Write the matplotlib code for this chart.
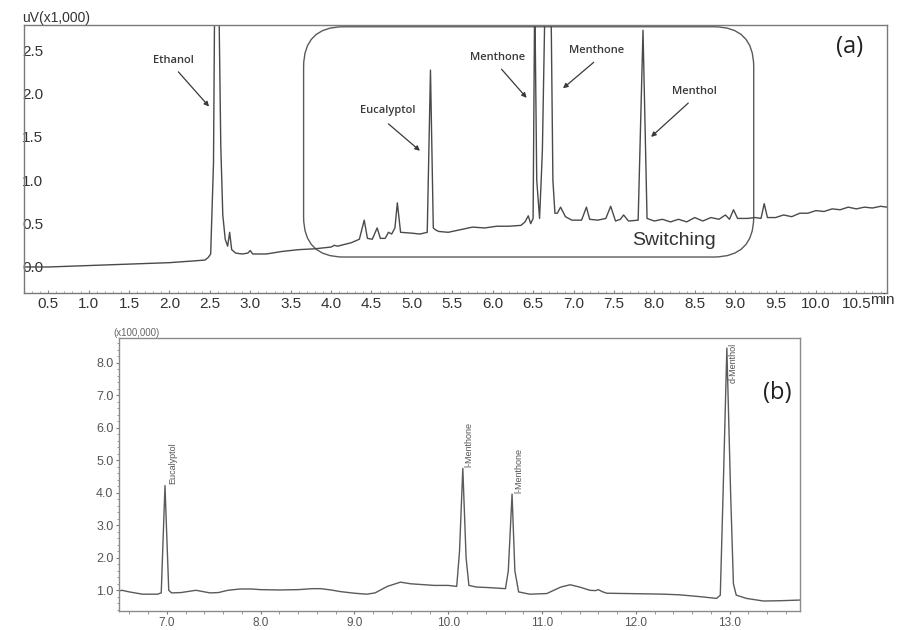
import matplotlib
matplotlib.use("Agg")
import matplotlib.pyplot as plt
from matplotlib.patches import FancyBboxPatch
from matplotlib.ticker import MultipleLocator, FixedLocator

# ---------------- data: panel (a) ----------------
time_a = [0.20, 0.50, 0.80, 1.10, 1.40, 1.70, 2.00, 2.30, 2.44, 2.48, 2.51, 2.545, 2.56, 2.61, 2.635,
          2.66, 2.69, 2.72, 2.745, 2.77, 2.82, 2.90, 2.97, 3.00, 3.03, 3.20, 3.40, 3.60, 3.80, 4.00,
          4.04, 4.08, 4.25, 4.35, 4.41, 4.45, 4.51, 4.57, 4.61, 4.67, 4.71, 4.75, 4.79, 4.82, 4.86,
          5.00, 5.10, 5.19, 5.23, 5.265, 5.29, 5.33, 5.45, 5.60, 5.75, 5.90, 6.05, 6.20, 6.35, 6.40,
          6.44, 6.47, 6.50, 6.52, 6.545, 6.58, 6.60, 6.615, 6.65, 6.72, 6.745, 6.77, 6.80, 6.84,
          6.90, 6.98, 7.10, 7.16, 7.20, 7.30, 7.40, 7.46, 7.52, 7.58, 7.62, 7.68, 7.80, 7.86, 7.91,
          8.00, 8.10, 8.20, 8.30, 8.40, 8.50, 8.60, 8.70, 8.80, 8.88, 8.93, 8.98, 9.03, 9.15, 9.25,
          9.32, 9.36, 9.40, 9.50, 9.60, 9.70, 9.80, 9.90, 10.00, 10.10, 10.20, 10.30, 10.40, 10.50,
          10.60, 10.70, 10.80, 10.88]
signal_a = [0.00, 0.00, 0.01, 0.02, 0.03, 0.04, 0.05, 0.07, 0.08, 0.11, 0.15, 1.20, 3.20, 3.20, 1.40,
            0.60, 0.32, 0.24, 0.40, 0.20, 0.16, 0.15, 0.16, 0.19, 0.15, 0.15, 0.18, 0.20, 0.21, 0.23,
            0.25, 0.24, 0.28, 0.32, 0.54, 0.33, 0.32, 0.45, 0.33, 0.33, 0.40, 0.38, 0.45, 0.74, 0.40,
            0.39, 0.38, 0.40, 2.27, 0.45, 0.43, 0.41, 0.40, 0.43, 0.46, 0.45, 0.47, 0.47, 0.48, 0.52,
            0.59, 0.50, 0.56, 3.20, 1.00, 0.56, 1.00, 1.35, 3.20, 3.20, 1.00, 0.62, 0.62, 0.69,
            0.58, 0.54, 0.54, 0.69, 0.55, 0.54, 0.56, 0.70, 0.53, 0.55, 0.60, 0.53, 0.54, 2.73, 0.56,
            0.53, 0.55, 0.52, 0.55, 0.52, 0.57, 0.53, 0.57, 0.55, 0.60, 0.55, 0.66, 0.56, 0.56, 0.57,
            0.56, 0.73, 0.57, 0.57, 0.60, 0.58, 0.62, 0.62, 0.65, 0.64, 0.67, 0.66, 0.69, 0.67,
            0.69, 0.68, 0.70, 0.69]
ticks_a_x = [0.5, 1.0, 1.5, 2.0, 2.5, 3.0, 3.5, 4.0, 4.5, 5.0, 5.5, 6.0, 6.5, 7.0, 7.5, 8.0, 8.5,
             9.0, 9.5, 10.0, 10.5]
ticks_a_y = [0.0, 0.5, 1.0, 1.5, 2.0, 2.5]
names_a = ["Ethanol", "Eucalyptol", "Menthone", "Menthone", "Menthol"]
label_pos_a = [(2.05, 2.38), (4.70, 1.81), (6.06, 2.41), (7.29, 2.50), (8.50, 2.02)]
arrow_from_a = [(2.11, 2.25), (4.71, 1.65), (6.11, 2.28), (7.25, 2.36), (8.42, 1.89)]
arrow_to_a = [(2.49, 1.85), (5.10, 1.34), (6.42, 1.95), (6.87, 2.06), (7.96, 1.50)]

# ---------------- data: panel (b) ----------------
time_b = [6.49, 6.52, 6.60, 6.74, 6.90, 6.94, 6.965, 6.98, 6.995, 7.02, 7.05, 7.15, 7.31, 7.46, 7.55,
          7.65, 7.78, 7.90, 8.00, 8.20, 8.40, 8.55, 8.64, 8.75, 8.85, 9.00, 9.13, 9.22, 9.35, 9.49,
          9.60, 9.70, 9.85, 10.00, 10.09, 10.12, 10.155, 10.19, 10.22, 10.30, 10.45, 10.61, 10.64,
          10.68, 10.71, 10.75, 10.87, 11.05, 11.20, 11.30, 11.40, 11.51, 11.57, 11.60, 11.64, 11.69,
          11.90, 12.12, 12.30, 12.47, 12.70, 12.86, 12.90, 12.93, 12.97, 13.01, 13.04, 13.07, 13.18,
          13.36, 13.55, 13.75]
signal_b = [0.98, 1.00, 0.95, 0.88, 0.88, 0.92, 3.00, 4.22, 3.00, 1.00, 0.92, 0.93, 1.00, 0.92, 0.93,
            1.00, 1.04, 1.04, 1.02, 1.01, 1.02, 1.05, 1.05, 1.01, 0.96, 0.91, 0.88, 0.92, 1.12, 1.25,
            1.20, 1.18, 1.15, 1.15, 1.12, 2.20, 4.75, 2.00, 1.15, 1.10, 1.08, 1.05, 1.60,
            3.96, 1.60, 0.95, 0.88, 0.90, 1.10, 1.17, 1.10, 1.00, 0.99, 1.02, 0.96, 0.91,
            0.90, 0.89, 0.88, 0.86, 0.80, 0.75, 0.85, 4.00, 8.45, 4.00, 1.20, 0.85, 0.75,
            0.67, 0.68, 0.70]
ticks_b_x = [7.0, 8.0, 9.0, 10.0, 11.0, 12.0, 13.0]
ticks_b_y = [1.0, 2.0, 3.0, 4.0, 5.0, 6.0, 7.0, 8.0]
names_b = ["Eucalyptol", "l-Menthone", "l-Menthone", "d-Menthol"]
label_pos_b = [(7.01, 4.26), (10.17, 4.80), (10.70, 4.00), (12.99, 7.38)]

# ---------------- figure ----------------
fig = plt.figure(figsize=(8.99, 6.30), dpi=100)
fig.patch.set_facecolor("white")
sans = ["Liberation Sans", "DejaVu Sans"]
trace_col = "#4a4a4a"

# Panel (a)
ax = fig.add_axes([0.0267, 0.5349, 0.9600, 0.4254])
ax.plot(time_a, signal_a, color=trace_col, lw=1.0)
ax.set_xlim(0.20, 10.88)
ax.set_ylim(-0.30, 2.79)
for s in ax.spines.values():
    s.set_color("#7a7a7a")
    s.set_linewidth(1.0)
ax.xaxis.set_major_locator(FixedLocator(ticks_a_x))
ax.xaxis.set_minor_locator(MultipleLocator(0.1))
ax.yaxis.set_major_locator(FixedLocator(ticks_a_y))
ax.set_xticklabels([f"{v:.1f}" for v in ticks_a_x], fontfamily=sans, fontsize=11, color="#333333")
ax.set_yticklabels([f"{v:.1f}" for v in ticks_a_y], fontfamily=sans, fontsize=11, color="#333333")
ax.tick_params(axis="x", which="major", direction="in", length=2, pad=3, color="#888888")
ax.tick_params(axis="x", which="minor", direction="in", length=1.5, color="#999999")
ax.tick_params(axis="y", which="major", length=0, pad=-14)
ax.text(10.67, -0.30, "min", transform=ax.transData, fontfamily=sans, fontsize=11,
        color="#333333", ha="left", va="top")
ax.text(-0.002, 1.0, "uV(x1,000)", transform=ax.transAxes, fontfamily=sans, fontsize=10,
        color="#333333", ha="left", va="bottom")

box_aspect = (1 / 86.7) / (1 / 80.8)
box = FancyBboxPatch((3.66, 0.115), 9.23 - 3.66, 2.77 - 0.115,
                     boxstyle="round,pad=0,rounding_size=0.495", mutation_aspect=box_aspect,
                     fill=False, edgecolor="#5a5a5a", lw=1.0, zorder=1)
ax.add_patch(box)
ax.text(8.24, 0.31, "Switching", fontfamily=sans, fontsize=14, color="#333333",
        ha="center", va="center")
ax.text(0.957, 0.918, "(a)", transform=ax.transAxes, fontfamily=["Open Sans", "DejaVu Sans"],
        fontsize=17, color="#222222", ha="center", va="center")

for name, lp, af, at in zip(names_a, label_pos_a, arrow_from_a, arrow_to_a):
    ax.text(lp[0], lp[1], name, fontfamily=["Open Sans", "DejaVu Sans"], fontsize=8,
            fontweight="semibold", color="#3a3a3a", ha="center", va="center")
    ax.annotate("", xy=at, xytext=af,
                arrowprops=dict(arrowstyle="-|>", color="#3a3a3a", lw=0.9,
                                mutation_scale=7, shrinkA=0, shrinkB=0))

# Panel (b)
bx = fig.add_axes([0.1324, 0.0300, 0.7575, 0.4335])
bx.plot(time_b, signal_b, color="#5a5a5a", lw=1.0)
bx.set_xlim(6.49, 13.75)
bx.set_ylim(0.36, 8.76)
for s in bx.spines.values():
    s.set_color("#8a8a8a")
    s.set_linewidth(1.0)
bx.xaxis.set_major_locator(FixedLocator(ticks_b_x))
bx.xaxis.set_minor_locator(MultipleLocator(0.2))
bx.yaxis.set_major_locator(FixedLocator(ticks_b_y))
bx.yaxis.set_minor_locator(MultipleLocator(0.2))
bx.set_xticklabels([f"{v:.1f}" for v in ticks_b_x], fontfamily=sans, fontsize=8.5, color="#555555")
bx.set_yticklabels([f"{v:.1f}" for v in ticks_b_y], fontfamily=sans, fontsize=9, color="#555555")
bx.tick_params(axis="both", which="major", direction="out", length=2.5, width=0.8,
               color="#777777", pad=1.5)
bx.tick_params(axis="both", which="minor", direction="out", length=1.8, width=0.6,
               color="#888888")
bx.text(-0.008, 1.0, "(x100,000)", transform=bx.transAxes, fontfamily=sans, fontsize=7,
        color="#666666", ha="left", va="bottom")
bx.text(0.966, 0.80, "(b)", transform=bx.transAxes, fontfamily=["Open Sans", "DejaVu Sans"],
        fontsize=17, color="#222222", ha="center", va="center")
for name, lp in zip(names_b, label_pos_b):
    bx.text(lp[0], lp[1], name, rotation=90, fontfamily=sans, fontsize=6.5, color="#555555",
            ha="left", va="bottom")

fig.savefig("out.png", dpi=100, facecolor="white")
